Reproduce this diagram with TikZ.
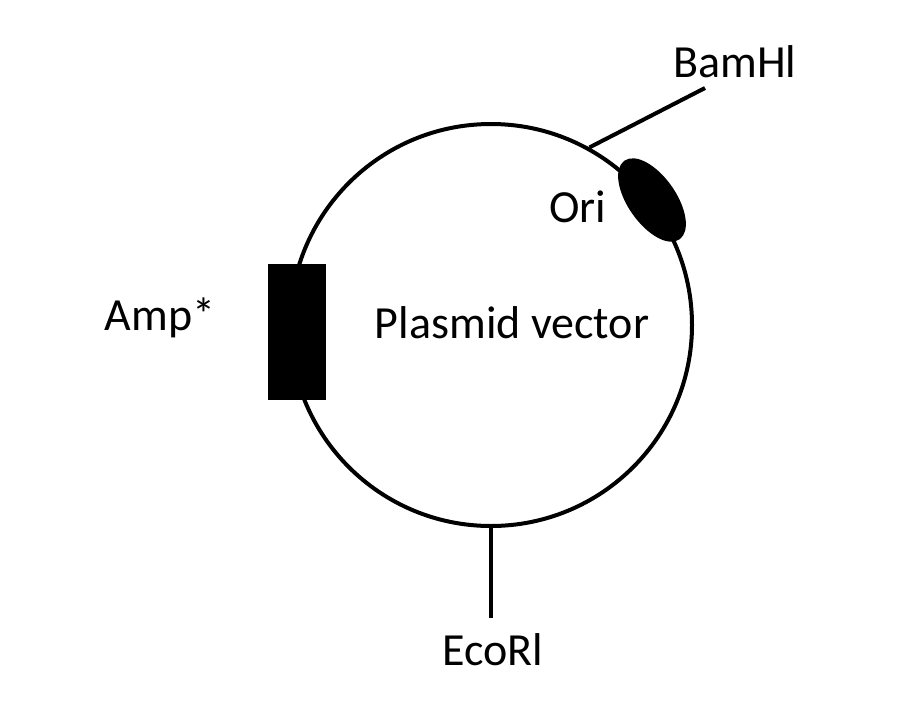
\documentclass[tikz,border=0pt]{standalone}
\usepackage{fontspec}
\setmainfont{Carlito}
\usetikzlibrary{shapes.geometric}

\begin{document}
\begin{tikzpicture}[x=1pt,y=1pt,font=\fontsize{46}{50}\selectfont]
\tikzstyle{dna}=[draw,line width=4pt]
\tikzstyle{gene}=[fill=black,draw=black,line width=2pt]
\tikzstyle{site}=[inner sep=0pt]

\useasboundingbox (0,0) rectangle (900,-718);

% the plasmid ring
\node(plasmid)[dna,circle,minimum size=402pt] at (491,-325) {};
\node(vec) at (512,-323) {Plasmid vector};

% genes on the ring
\node(amp)[gene,rectangle,minimum width=56pt,minimum height=134pt] at (297,-332) {};
\node(ori)[gene,ellipse,minimum width=94pt,minimum height=46pt,rotate=-55] at (652,-200) {};
\node(amplab) at (160,-318) {Amp*};
\node(orilab) at (578,-207) {Ori};

% restriction sites
\coordinate(bamend) at (705,-88);
\coordinate(ecoend) at (491,-618);
\node(bam)[site] at (735,-62) {BamHl};
\node(eco)[site] at (493,-650) {EcoRl};
\draw[dna] (plasmid.61) -- (bamend);
\draw[dna] (plasmid.270) -- (ecoend);

\end{tikzpicture}
\end{document}
